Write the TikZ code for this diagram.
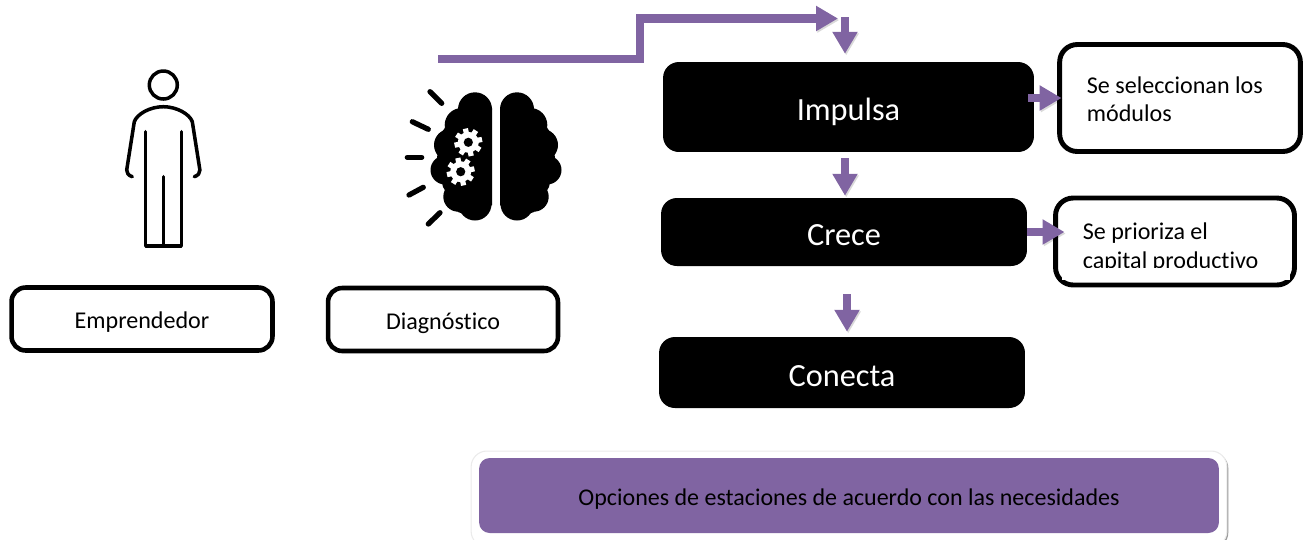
\documentclass[tikz,border=0pt]{standalone}
\usepackage{fontspec}
\setmainfont[Ligatures=NoCommon]{Carlito}
\usetikzlibrary{arrows.meta,shadows}
\definecolor{stationpurple}{RGB}{128,100,162}
\tikzset{
  flow/.style={
    draw=stationpurple,
    line width=4.7pt,
    -{Triangle[length=12.5pt,width=13.6pt]},
    preaction={draw=black, opacity=0.15, transform canvas={xshift=0.7pt,yshift=-0.9pt}}
  },
  box-white/.style={
    draw=black, fill=white, line width=2.6pt,
    rounded corners=8pt, inner sep=0pt, font=\fontsize{13.7}{16}\selectfont,
    text height=11pt, text depth=0pt
  },
  box-note/.style={
    draw=black, fill=white, line width=2.8pt, align=flush left, rounded corners=10pt,
    inner xsep=15.5pt, inner ysep=0pt, font=\fontsize{13.7}{16.3}\selectfont
  },
  box-black/.style={
    fill=black, text=white, rounded corners=9pt, inner sep=0pt,
    font=\fontsize{18.4}{22}\selectfont, text height=15.5pt, text depth=0pt
  },
  icon/.style={
    line width=2pt,
    line cap=round,
    line join=round
  },
  ray/.style={line width=3pt, line cap=round}
}
% one half of the brain, drawn left of the axis
\newcommand{\brainhalf}{
  \fill (-21,109.3) circle [radius=17];
  \fill (-34.3,125) circle [radius=17];
  \fill (-46,145) circle [radius=16];
  \fill (-51,170) circle [radius=14.5];
  \fill (-37.7,196.7) circle [radius=15];
  \fill (-21,204) circle [radius=16.5];
  \fill (-4,108) -- (-4,205) -- (-21,218) -- (-38,212) -- (-53,187) -- (-59,158) -- (-56,135) -- (-39,110) -- (-21,95) -- cycle;
}
\newcommand{\gearicon}[2]{
  \foreach \a in {0,45,...,315}
    \fill[white, shift={(#1,#2)}, rotate=\a+12] (-2.6,-14) rectangle (2.6,0);
  \fill[white] (#1,#2) circle [radius=10.5];
  \fill[black] (#1,#2) circle [radius=4.6];
}

\begin{document}
\begin{tikzpicture}[x=0.02cm,y=-0.02cm]
  \useasboundingbox (0,0) rectangle (1307,539);

  % Person
  \draw[icon] (163.3,85) circle [radius=14];
  \draw[icon] (132.3,176.7) .. controls (128.5,175.5) and (126.5,173) .. (126.7,170)
    -- (134.3,121.7) .. controls (137,114) and (150,106.7) .. (163.3,106.7)
    .. controls (176.6,106.7) and (189.6,114) .. (192.3,121.7)
    -- (199.9,170) .. controls (200.1,173) and (198.1,175.5) .. (194.3,176.7);
  \draw[icon] (145.7,131.7) -- (145.7,246) -- (181.3,246) -- (181.3,131.7);
  \draw[icon] (163.3,176.7) -- (163.3,246);

  % Brain
  \begin{scope}[shift={(496,0)}]
    \brainhalf
    \begin{scope}[xscale=-1]
      \brainhalf
    \end{scope}
  \end{scope}
  \gearicon{468.3}{142.3}
  \gearicon{460.7}{171.7}
  \draw[ray] (430,91.7) -- (441.7,103.3);
  \draw[ray] (412.3,121.7) -- (428.3,129.3);
  \draw[ray] (407.3,157.3) -- (421.7,157.3);
  \draw[ray] (409,195) -- (423.3,187.3);
  \draw[ray] (428.3,224) -- (440,212.7);

  % Left boxes
  \node[box-white, minimum width=261*0.569pt, minimum height=63*0.569pt] (emprendedor) at (142,319) {Emprendedor};
  \node[box-white, minimum width=230*0.569pt, minimum height=63*0.569pt] (diagnostico) at (443,319.5) {Diagnóstico};

  % Stations
  \node[box-black, minimum width=371*0.569pt, minimum height=90*0.569pt] (impulsa) at (848.5,107) {Impulsa};
  \node[box-black, minimum width=366*0.569pt, minimum height=68*0.569pt] (crece) at (844,232) {Crece};
  \node[box-black, minimum width=366*0.569pt, minimum height=71*0.569pt] (conecta) at (842,372.5) {Conecta};

  % Notes
  \node[box-note, minimum width=240*0.569pt, minimum height=107*0.569pt, text width=106pt, text depth=15.1pt] (seleccion) at (1180,98)
    {Se seleccionan los\\módulos};
  \node[box-note, minimum width=236*0.569pt, minimum height=87*0.569pt, text width=105pt, text depth=11.6pt] (prioriza) at (1175,241.5)
    {Se prioriza el\\capital productivo};
  % the second line is cut off at its foot
  \fill[white] (1062,268) rectangle (1290,280);

  % Bottom band
  \node[fill=white, draw=black!8, line width=0.6pt, rounded corners=9pt, minimum width=756*0.569pt, minimum height=96*0.569pt,
    drop shadow={shadow xshift=0.8pt,shadow yshift=-0.8pt,opacity=0.4,fill=black}] (band-back) at (849,499) {};
  \node[fill=stationpurple, rounded corners=6pt, minimum width=740*0.569pt, minimum height=75*0.569pt, inner sep=0pt,
    font=\fontsize{13.66}{16}\selectfont, text height=11pt, text depth=0pt] (band) at (849,495.5) {Opciones de estaciones de acuerdo con las necesidades};

  % Arrows
  \coordinate (start) at (438,59);
  \coordinate (merge) at (838,18.5);
  \coordinate (drop) at (845,17);
  \draw[flow] (start) -- (640,59) -- (640,18.5) -- (merge);
  \draw[flow, shorten >=4.5pt] (drop) -- (drop |- impulsa.north);
  \draw[flow, shorten <=3.4pt, shorten >=1.1pt] (845,0 |- impulsa.south) -- (845,0 |- crece.north);
  \draw[flow, shorten <=16pt, shorten >=2.8pt] (847,0 |- crece.south) -- (847,0 |- conecta.north);
  \draw[flow, shorten <=-3.4pt, shorten >=-2.5pt] (impulsa.east |- seleccion.west) -- (seleccion.west);
  \draw[flow, shorten >=-6.5pt] (crece.east) -- (crece.east -| prioriza.west);
\end{tikzpicture}
\end{document}
